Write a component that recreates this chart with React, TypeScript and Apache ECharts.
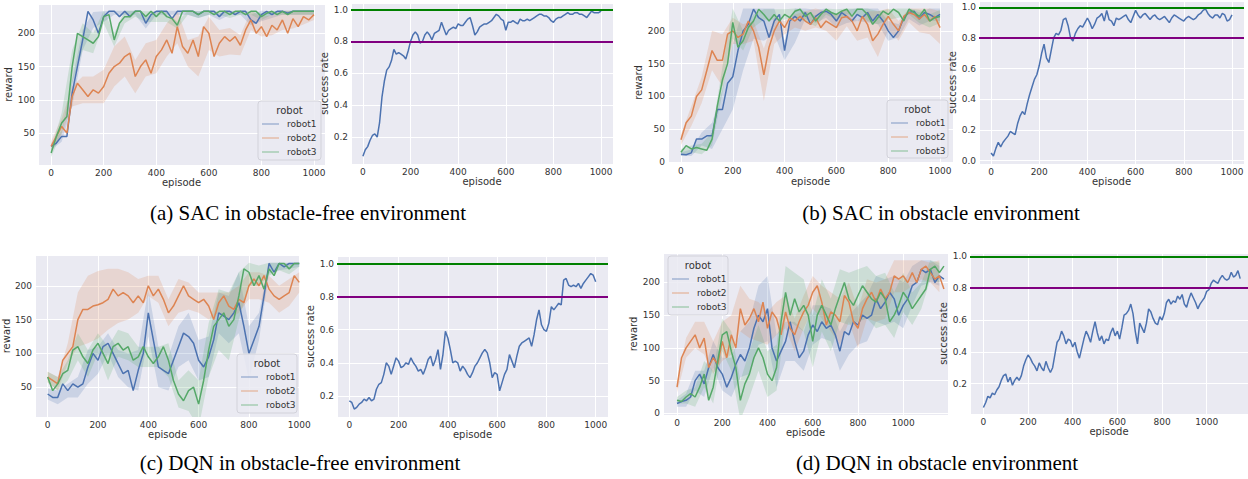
import React, { useEffect, useRef } from "react";
import * as echarts from "echarts";

// ---------- data ----------
const REWARD_STEP = 20; // episodes between reward samples
const BAND_STEP = 40; // episodes between band-spread samples
const SUCCESS_STEP = 10; // episodes between success-rate samples
const REWARD_CAP = 234;

const robots = ["robot1", "robot2", "robot3"];
const successLines = [1.0, 0.8];

// (a) SAC, obstacle-free
const aRobot1 = [30,35,45,45,110,150,190,233,220,200,225,233,233,225,233,225,233,233,215,228,233,233,233,222,233,233,233,233,228,233,233,233,225,233,233,228,233,233,220,215,228,233,228,233,233,230,233,233,233,233,233];
const aRobot2 = [30,45,60,50,105,125,115,105,115,110,120,140,150,155,165,170,135,150,160,140,165,175,190,170,210,180,170,190,165,210,200,165,185,195,188,195,182,205,220,200,210,195,212,205,220,200,222,210,225,220,228];
const aRobot3 = [20,45,65,75,150,200,195,190,185,195,225,228,190,215,225,225,233,233,225,233,225,233,225,222,212,233,233,233,228,233,233,228,233,233,228,233,233,228,233,233,225,230,233,228,233,228,233,233,233,233,233];
const aSpread1 = [5,8,20,15,12,8,5,5,5,8,5,5,5,5,5,5,5,5,5,8,10,5,5,5,5,5];
const aSpread2 = [8,12,15,20,20,25,30,30,25,25,25,25,25,20,30,25,20,20,15,15,15,15,15,15,12,8];
const aSpread3 = [6,15,25,20,15,10,10,10,8,8,8,8,5,5,5,5,5,5,5,5,5,5,5,5,5,5];
const aSuccess = [
  0.08,0.12,0.14,0.18,0.21,0.22,0.20,0.29,0.45,0.55,
  0.62,0.64,0.68,0.75,0.72,0.73,0.72,0.71,0.69,0.74,
  0.80,0.84,0.86,0.84,0.79,0.80,0.84,0.86,0.84,0.81,
  0.85,0.86,0.87,0.92,0.88,0.84,0.87,0.88,0.89,0.88,
  0.91,0.90,0.90,0.92,0.94,0.95,0.90,0.84,0.86,0.89,
  0.90,0.91,0.91,0.92,0.93,0.95,0.97,0.96,0.94,0.93,
  0.87,0.92,0.92,0.93,0.92,0.91,0.94,0.93,0.93,0.94,
  0.93,0.94,0.95,0.96,0.97,0.97,0.96,0.96,0.95,0.93,
  0.92,0.94,0.95,0.95,0.96,0.97,0.98,0.97,0.97,0.98,
  0.98,0.97,0.97,0.96,0.95,0.97,0.99,0.98,0.98,0.98,
  0.99];

// (b) SAC, obstacle
const bRobot1 = [12,11,14,35,35,40,40,80,80,120,130,170,200,210,233,220,215,190,215,225,170,215,222,215,228,210,222,228,230,225,215,228,222,215,225,220,228,215,225,215,200,190,200,220,228,230,218,228,225,220,225];
const bRobot2 = [34,60,70,100,110,140,170,155,155,195,200,190,195,215,200,175,133,175,200,215,205,220,215,222,215,210,220,205,215,210,205,220,222,215,200,222,210,185,195,210,222,210,200,222,228,225,218,225,215,222,205];
const bRobot3 = [15,25,20,22,20,18,35,85,125,150,213,175,185,205,215,233,225,215,225,215,225,220,230,233,222,228,215,225,233,228,225,230,233,222,233,233,225,210,220,230,225,233,228,215,233,228,222,233,215,220,222];
const bSpread1 = [3,5,10,20,30,50,60,45,30,20,15,40,10,10,10,10,10,10,15,15,15,10,10,10,10,10];
const bSpread2 = [8,15,20,30,40,20,15,15,40,20,10,10,15,15,15,20,15,15,20,35,20,15,15,20,20,25];
const bSpread3 = [5,5,8,10,20,25,15,10,8,8,8,8,8,8,8,8,8,8,10,10,8,8,8,10,10,10];
const bSuccess = [
  0.05,0.03,0.08,0.12,0.09,0.12,0.14,0.16,0.19,0.18,
  0.17,0.24,0.29,0.32,0.30,0.37,0.43,0.48,0.53,0.56,
  0.62,0.70,0.76,0.67,0.64,0.72,0.80,0.83,0.82,0.85,
  0.92,0.93,0.88,0.80,0.78,0.83,0.86,0.88,0.87,0.90,
  0.93,0.90,0.86,0.89,0.93,0.94,0.96,0.91,0.98,0.92,
  0.91,0.88,0.93,0.92,0.93,0.94,0.95,0.92,0.90,0.94,
  0.98,0.95,0.93,0.95,0.96,0.94,0.92,0.94,0.95,0.93,
  0.92,0.93,0.94,0.92,0.90,0.93,0.95,0.94,0.93,0.92,
  0.91,0.93,0.94,0.93,0.92,0.93,0.95,0.96,0.98,0.99,
  0.96,0.94,0.93,0.95,0.95,0.93,0.96,0.95,0.91,0.92,
  0.95];

// (c) DQN, obstacle-free
const cRobot1 = [40,35,35,55,45,55,50,55,80,100,90,110,115,100,85,70,75,45,75,100,160,120,80,75,70,90,110,130,125,115,90,80,95,120,160,155,150,160,175,140,100,120,140,185,233,220,233,228,233,233,233];
const cRobot2 = [65,60,55,90,100,110,150,165,165,170,172,175,180,195,185,190,185,175,185,175,200,185,195,180,160,170,185,200,185,180,175,180,170,150,175,185,170,165,180,175,200,210,200,215,195,185,180,185,190,215,205];
const cRobot3 = [65,45,55,70,75,105,110,95,85,105,115,100,85,110,115,105,110,90,95,110,95,85,95,110,90,60,40,30,45,50,25,60,105,140,150,160,140,150,185,225,220,200,215,195,225,215,233,233,225,233,233];
const cSpread1 = [8,10,10,15,25,20,15,20,25,30,35,30,25,30,35,30,30,30,35,45,40,20,15,10,8,5];
const cSpread2 = [8,10,15,40,50,50,45,40,35,25,15,20,20,25,20,15,20,15,20,20,20,20,20,20,20,15];
const cSpread3 = [8,10,15,20,20,15,25,20,20,15,15,15,25,20,30,35,40,45,50,35,20,15,10,10,8,5];
const cSuccess = [
  0.17,0.16,0.12,0.13,0.15,0.16,0.18,0.17,0.19,0.17,
  0.18,0.24,0.27,0.28,0.33,0.40,0.38,0.33,0.38,0.43,
  0.41,0.37,0.38,0.40,0.39,0.43,0.40,0.38,0.35,0.36,
  0.33,0.37,0.42,0.44,0.38,0.42,0.48,0.36,0.45,0.59,
  0.55,0.48,0.40,0.41,0.40,0.35,0.38,0.36,0.33,0.31,
  0.34,0.38,0.40,0.43,0.46,0.48,0.46,0.40,0.31,0.34,
  0.33,0.23,0.28,0.33,0.36,0.45,0.41,0.37,0.44,0.50,
  0.52,0.53,0.54,0.55,0.50,0.57,0.66,0.72,0.63,0.60,
  0.59,0.64,0.74,0.72,0.74,0.76,0.75,0.90,0.91,0.87,
  0.86,0.87,0.86,0.88,0.85,0.88,0.90,0.92,0.94,0.93,
  0.89];

// (d) DQN, obstacle
const dRobot1 = [15,18,20,25,50,60,45,70,90,70,60,40,55,75,90,80,100,130,150,140,160,100,80,95,110,140,110,85,95,120,135,125,140,130,135,120,95,125,120,140,135,150,145,150,175,160,170,185,175,150,165,175,195,200,220,215,220,200,210,205];
const dRobot2 = [40,85,100,110,120,100,115,70,85,75,110,85,120,100,160,135,145,160,140,170,130,155,145,120,155,130,120,140,155,165,185,195,170,135,155,150,140,180,170,140,130,160,175,185,170,190,175,185,210,205,210,200,215,200,220,225,215,205,210,190];
const dRobot3 = [20,18,25,30,25,40,60,20,40,80,120,125,95,70,20,45,60,85,100,85,60,50,70,140,185,150,175,155,165,150,110,150,165,150,135,160,180,200,175,165,180,195,185,175,170,185,175,140,150,165,185,175,160,170,180,190,220,225,215,225];
const dSpread1 = [5,10,15,20,20,25,30,35,40,45,50,40,30,30,30,30,25,25,30,30,30,35,35,35,35,35,30,25,20,15];
const dSpread2 = [8,15,20,25,25,30,30,35,30,30,25,25,25,25,25,25,25,30,35,30,30,30,30,30,25,25,20,15,15,25];
const dSpread3 = [5,10,15,20,25,25,30,30,35,35,35,35,40,40,40,40,40,40,40,40,40,40,40,40,35,30,25,20,15,15];
const dSuccess = [
  0.05,0.08,0.12,0.11,0.14,0.13,0.16,0.18,0.22,0.25,
  0.26,0.21,0.24,0.19,0.22,0.24,0.22,0.25,0.31,0.35,
  0.38,0.36,0.33,0.31,0.28,0.33,0.30,0.28,0.34,0.30,
  0.27,0.30,0.38,0.46,0.48,0.53,0.50,0.45,0.48,0.47,
  0.43,0.46,0.40,0.36,0.42,0.48,0.53,0.50,0.46,0.53,
  0.59,0.52,0.47,0.50,0.45,0.48,0.47,0.52,0.55,0.50,
  0.53,0.48,0.55,0.63,0.64,0.66,0.70,0.64,0.53,0.45,
  0.58,0.55,0.52,0.58,0.67,0.65,0.61,0.58,0.57,0.62,
  0.60,0.64,0.71,0.73,0.70,0.72,0.71,0.75,0.73,0.76,
  0.70,0.68,0.73,0.77,0.74,0.71,0.67,0.70,0.72,0.74,
  0.78,0.79,0.83,0.85,0.84,0.83,0.86,0.88,0.86,0.85,
  0.86,0.90,0.87,0.88,0.91,0.86];

const captions = [
  "(a) SAC in obstacle-free environment",
  "(b) SAC in obstacle environment",
  "(c) DQN in obstacle-free environment",
  "(d) DQN in obstacle environment",
];

// ---------- styling / layout ----------
const COLORS = ["#4C72B0", "#DD8452", "#55A868"];
const BAND_FILLS = ["rgba(76,114,176,0.2)", "rgba(221,132,82,0.2)", "rgba(85,168,104,0.2)"];
const GOAL_COLORS = ["#008000", "#800080"];
const BG = "#EAEAF2";
const TXT = "#333333";
const SANS = "DejaVu Sans";

const panels: any[] = [
  { kind: "reward", lines: [aRobot1, aRobot2, aRobot3], spreads: [aSpread1, aSpread2, aSpread3],
    grid: { left: 38, top: 4, width: 287, height: 161 }, x: [-50, 1042], y: [2, 244], yGap: 20, xGap: 11,
    legend: { x: 258, y: 101, w: 63, h: 59 } },
  { kind: "success", values: aSuccess,
    grid: { left: 351, top: 3, width: 262, height: 161 }, x: [-50, 1050], y: [0.031, 1.041], yGap: 15, xGap: 12 },
  { kind: "reward", lines: [bRobot1, bRobot2, bRobot3], spreads: [bSpread1, bSpread2, bSpread3],
    grid: { left: 668, top: 2, width: 285, height: 161 }, x: [-50, 1050], y: [-1.5, 244], yGap: 17, xGap: 13,
    legend: { x: 887, y: 100, w: 61, h: 58 } },
  { kind: "success", values: bSuccess,
    grid: { left: 979, top: 1, width: 265, height: 163 }, x: [-50, 1050], y: [-0.022, 1.041], yGap: 15, xGap: 11 },
  { kind: "reward", lines: [cRobot1, cRobot2, cRobot3], spreads: [cSpread1, cSpread2, cSpread3],
    grid: { left: 30, top: 255, width: 270, height: 162 }, x: [-50, 1003], y: [6, 245.5], yGap: 19, xGap: 11,
    legend: { x: 237, y: 354, w: 60, h: 59 } },
  { kind: "success", values: cSuccess,
    grid: { left: 337, top: 256, width: 271, height: 161 }, x: [-50, 1050], y: [0.072, 1.046], yGap: 14, xGap: 11 },
  { kind: "reward", lines: [dRobot1, dRobot2, dRobot3], spreads: [dSpread1, dSpread2, dSpread3],
    grid: { left: 663, top: 253, width: 285, height: 162 }, x: [-62, 1198], y: [-2.5, 245], yGap: 17, xGap: 11,
    legend: { x: 668, y: 256, w: 60, h: 59 } },
  { kind: "success", values: dSuccess,
    grid: { left: 970, top: 253, width: 278, height: 161 }, x: [-60, 1185], y: [0.009, 1.021], yGap: 15, xGap: 12 },
];

const captionPos = [
  { x: 308, y: 213 },
  { x: 941, y: 213 },
  { x: 300, y: 463 },
  { x: 937, y: 463 },
];

function bandSeries(gi: number, rows: number[][], fill: string) {
  return {
    type: "custom",
    xAxisIndex: gi,
    yAxisIndex: gi,
    silent: true,
    z: 1,
    data: rows,
    encode: { x: 0, y: [1, 2] },
    renderItem: (params: any, api: any) => {
      if (params.dataIndex !== 0) return null;
      const upper = rows.map((r) => api.coord([r[0], r[2]]));
      const lower = rows.slice().reverse().map((r) => api.coord([r[0], r[1]]));
      const cs = params.coordSys;
      return {
        type: "polygon",
        shape: { points: upper.concat(lower) },
        style: { fill, stroke: "none" },
        clipPath: { type: "rect", shape: { x: cs.x, y: cs.y, width: cs.width, height: cs.height } },
      };
    },
  };
}

function buildOption() {
  const grid: any[] = [];
  const xAxis: any[] = [];
  const yAxis: any[] = [];
  const series: any[] = [];
  const graphic: any[] = [];

  panels.forEach((p, gi) => {
    grid.push({ ...p.grid, show: true, backgroundColor: BG, borderWidth: 0 });
    const common = {
      type: "value",
      gridIndex: gi,
      axisLine: { show: false },
      axisTick: { show: false },
      splitLine: { show: true, lineStyle: { color: "#ffffff", width: 1 } },
      nameLocation: "middle",
      nameTextStyle: { color: TXT, fontSize: 10, fontFamily: SANS },
    };
    xAxis.push({
      ...common,
      splitNumber: 6,
      min: p.x[0],
      max: p.x[1],
      name: "episode",
      nameGap: p.xGap,
      axisLabel: {
        color: TXT, fontSize: 9, fontFamily: SANS, margin: 3, showMinLabel: false, showMaxLabel: false,
        formatter: (v: number) => String(Math.round(v)),
      },
    });
    yAxis.push({
      ...common,
      splitNumber: 5,
      min: p.y[0],
      max: p.y[1],
      name: p.kind === "reward" ? "reward" : "success rate",
      nameRotate: 90,
      nameGap: p.yGap,
      axisLabel: {
        color: TXT, fontSize: 9, fontFamily: SANS, margin: 3, showMinLabel: false, showMaxLabel: false,
        formatter: p.kind === "reward" ? (v: number) => String(Math.round(v)) : (v: number) => v.toFixed(1),
      },
    });

    if (p.kind === "reward") {
      p.lines.forEach((vals: number[], k: number) => {
        const rows = p.spreads[k].map((s: number, j: number) => {
          const x = j * BAND_STEP;
          const v = vals[x / REWARD_STEP];
          return [x, v - s, Math.min(v + s, REWARD_CAP)];
        });
        series.push(bandSeries(gi, rows, BAND_FILLS[k]));
      });
      p.lines.forEach((vals: number[], k: number) => {
        series.push({
          type: "line", name: robots[k], xAxisIndex: gi, yAxisIndex: gi,
          data: vals.map((v, i) => [i * REWARD_STEP, v]),
          symbol: "none", z: 2,
          lineStyle: { color: COLORS[k], width: 1.5 },
          itemStyle: { color: COLORS[k] },
        });
      });

      const L = p.legend;
      graphic.push({
        type: "rect", z: 100,
        shape: { x: L.x, y: L.y, width: L.w, height: L.h, r: 3 },
        style: { fill: "rgba(234,234,242,0.85)", stroke: "#d2d2da", lineWidth: 1 },
      });
      graphic.push({
        type: "text", z: 101, x: L.x + L.w / 2, y: L.y + 9,
        style: { text: "robot", fontSize: 10, fontFamily: SANS, fill: TXT, align: "center", verticalAlign: "middle", textAlign: "center", textVerticalAlign: "middle" },
      });
      robots.forEach((r, k) => {
        const yy = L.y + 23 + k * 14;
        graphic.push({
          type: "line", z: 101,
          shape: { x1: L.x + 4, y1: yy, x2: L.x + 21, y2: yy },
          style: { stroke: COLORS[k], opacity: 0.45, lineWidth: 1.5 },
        });
        graphic.push({
          type: "text", z: 101, x: L.x + 29, y: yy,
          style: { text: r, fontSize: 9, fontFamily: SANS, fill: TXT, align: "left", verticalAlign: "middle", textAlign: "left", textVerticalAlign: "middle" },
        });
      });
    } else {
      series.push({
        type: "line", name: "success rate", xAxisIndex: gi, yAxisIndex: gi,
        data: p.values.map((v: number, i: number) => [i * SUCCESS_STEP, v]),
        symbol: "none", z: 3,
        lineStyle: { color: COLORS[0], width: 1.5 },
        itemStyle: { color: COLORS[0] },
        markLine: {
          silent: true,
          symbol: ["none", "none"],
          label: { show: false },
          data: successLines.map((v, i) => ({ yAxis: v, lineStyle: { color: GOAL_COLORS[i], width: 2, type: "solid" } })),
        },
      });
    }
  });

  captions.forEach((c, i) => {
    graphic.push({
      type: "text", x: captionPos[i].x, y: captionPos[i].y,
      style: { text: c, fontSize: 21, fontFamily: "Liberation Serif", fill: "#000", align: "center", verticalAlign: "middle", textAlign: "center", textVerticalAlign: "middle" },
    });
  });

  return { animation: false, backgroundColor: "#ffffff", grid, xAxis, yAxis, series, graphic };
}

export default function App() {
  const ref = useRef<HTMLDivElement>(null);
  useEffect(() => {
    if (!ref.current) return;
    const chart = echarts.init(ref.current, undefined, { renderer: "svg" });
    chart.setOption(buildOption() as any);
    return () => chart.dispose();
  }, []);
  return (
    <div
      ref={ref}
      style={{ position: "fixed", left: 0, top: 0, width: 1248, height: 479, background: "#fff" }}
    />
  );
}
